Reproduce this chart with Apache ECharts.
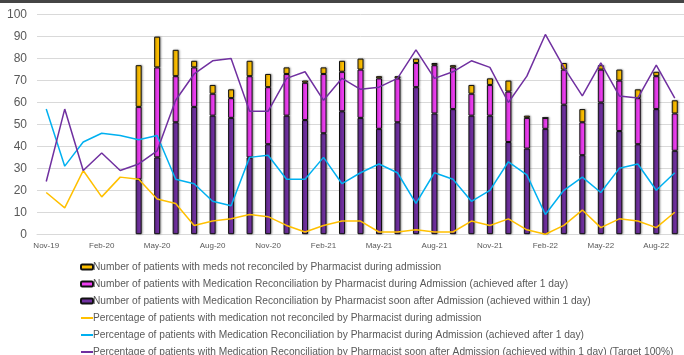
<!DOCTYPE html>
<html>
<head>
<meta charset="utf-8">
<script src="https://cdn.jsdelivr.net/npm/echarts@6/dist/echarts.min.js"></script>
<style>
html,body{margin:0;padding:0;background:#fff;}
#c{width:684px;height:355px;}
</style>
</head>
<body>
<div id="c"></div>
<script>
var months = ['Nov-19','Dec-19','Jan-20','Feb-20','Mar-20','Apr-20','May-20','Jun-20','Jul-20','Aug-20','Sep-20',
  'Oct-20','Nov-20','Dec-20','Jan-21','Feb-21','Mar-21','Apr-21','May-21','Jun-21','Jul-21','Aug-21','Sep-21',
  'Oct-21','Nov-21','Dec-21','Jan-22','Feb-22','Mar-22','Apr-22','May-22','Jun-22','Jul-22','Aug-22','Sep-22'];

var withinDayCount = [null,null,null,null,null, 25,35,51,58,54,53, 35,41,54,52,46,56,53,48,51,67,55,57, 54,54,42,39,48,59,36,60,47,41,57,38];
var afterDayCount  = [null,null,null,null,null, 33,41,21,18,10,9, 37,26,19,17,27,18,22,23,20,11,22,19, 10,14,23,14,5,16,15,15,23,21,15,17];
var notReconCount  = [null,null,null,null,null, 19,14,12,3,4,4, 7,6,3,1,3,5,5,1,1,2,1,1, 4,3,5,1,0,3,6,2,5,4,2,6];

var notReconPct  = [19,12,29,17,26, 25,16,14,4,6,7, 9,8,4,1,4,6,6,1,1,2,1,1, 6,4,7,2,0,4,11,3,7,6,3,10];
var afterDayPct  = [57,31,42,46,45, 43,45,25,23,15,13, 35,36,25,25,35,23,28,32,28,14,28,25, 15,20,33,27,9,20,26,19,30,32,20,28];
var withinDayPct = [24,57,29,37,29, 32,38,61,73,79,80, 56,56,71,74,61,71,66,67,71,84,71,74, 79,76,60,72,91,76,63,78,63,62,77,62];

var yTicks = {min:0, max:100, interval:10};

var names = [
  'Number of patients with meds not reconciled by Pharmacist during admission',
  'Number of patients with Medication Reconciliation by Pharmacist during Admission (achieved after 1 day)',
  'Number of patients with Medication Reconciliation by Pharmacist soon after Admission (achieved within 1 day)',
  'Percentage of patients with medication not reconciled by Pharmacist during admission',
  'Percentage of patients with Medication Reconciliation by Pharmacist during Admission (achieved after 1 day)',
  'Percentage of patients with Medication Reconciliation by Pharmacist soon after Admission (achieved within 1 day) (Target 100%)'
];

var barStyle = function(color){
  return {color:color, borderColor:'#111', borderWidth:1,
    shadowColor:'rgba(0,0,0,0.35)', shadowBlur:2, shadowOffsetX:1, shadowOffsetY:0};
};

var legendData = names.map(function(n, i){
  return i < 3 ? {name:n} : {name:n, itemStyle:{opacity:0}};
});

var chart = echarts.init(document.getElementById('c'), null, {renderer:'canvas'});
chart.setOption({
  animation:false,
  backgroundColor:'#fff',
  graphic:[
    {type:'rect', left:0, top:0, shape:{width:684, height:3}, style:{fill:'#454545'}, z:10}
  ],
  grid:{left:37, right:0, top:14.7, bottom:120.8, containLabel:false},
  legend:{
    orient:'vertical', left:80, top:261, height:130, padding:0,
    itemWidth:12, itemHeight:5, itemGap:5,
    data:legendData,
    textStyle:{fontFamily:'Liberation Sans, Arial, sans-serif', fontSize:10.2, color:'#595959', lineHeight:12, padding:[0,0,0,-5]}
  },
  xAxis:{
    type:'category', data:months, boundaryGap:true,
    axisLine:{lineStyle:{color:'#D9D9D9'}},
    axisTick:{interval:2, length:4, lineStyle:{color:'#BFBFBF'}},
    axisLabel:{interval:2, fontFamily:'Liberation Sans, Arial, sans-serif', fontSize:8, color:'#595959', margin:8}
  },
  yAxis:{
    type:'value', min:yTicks.min, max:yTicks.max, interval:yTicks.interval,
    axisLine:{show:false}, axisTick:{show:false},
    splitLine:{lineStyle:{color:'#D9D9D9'}},
    axisLabel:{fontFamily:'Liberation Sans, Arial, sans-serif', fontSize:12, color:'#595959', margin:10}
  },
  series:[
    {name:names[2], type:'bar', stack:'n', barWidth:6, data:withinDayCount, itemStyle:barStyle('#7030A0'), z:2},
    {name:names[1], type:'bar', stack:'n', barWidth:6, data:afterDayCount, itemStyle:barStyle('#EE3DF2'), z:2},
    {name:names[0], type:'bar', stack:'n', barWidth:6, data:notReconCount, itemStyle:barStyle('#FFC000'), z:2},
    {name:names[3], type:'line', data:notReconPct, symbol:'none', lineStyle:{color:'#FFC000', width:1.5}, itemStyle:{color:'#FFC000'}, z:5},
    {name:names[4], type:'line', data:afterDayPct, symbol:'none', lineStyle:{color:'#00B0F0', width:1.5}, itemStyle:{color:'#00B0F0'}, z:5},
    {name:names[5], type:'line', data:withinDayPct, symbol:'none', lineStyle:{color:'#7030A0', width:1.5}, itemStyle:{color:'#7030A0'}, z:5}
  ]
});
</script>
</body>
</html>
